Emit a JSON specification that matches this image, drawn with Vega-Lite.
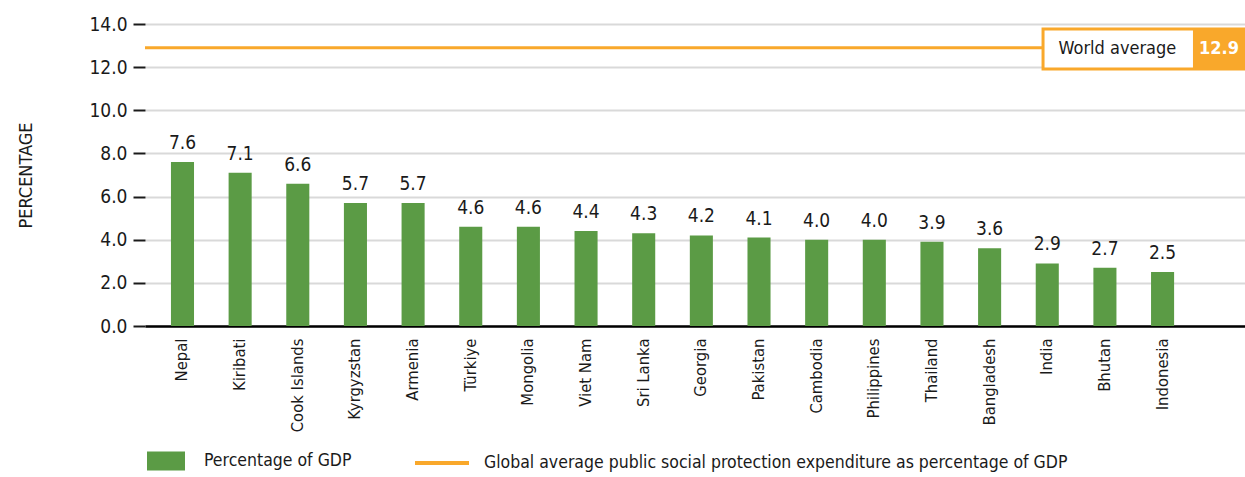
{
  "$schema": "https://vega.github.io/schema/vega-lite/v6.json",
  "width": 1100,
  "height": 302,
  "autosize": {"type": "none"},
  "padding": {"left": 145, "top": 24, "right": 0, "bottom": 151},
  "background": "white",
  "config": {"font": "DejaVu Sans Condensed, Liberation Sans Narrow, Roboto", "view": {"stroke": null}},
  "datasets": {
    "countries": [
      {"country": "Nepal", "value": 7.6},
      {"country": "Kiribati", "value": 7.1},
      {"country": "Cook Islands", "value": 6.6},
      {"country": "Kyrgyzstan", "value": 5.7},
      {"country": "Armenia", "value": 5.7},
      {"country": "Türkiye", "value": 4.6},
      {"country": "Mongolia", "value": 4.6},
      {"country": "Viet Nam", "value": 4.4},
      {"country": "Sri Lanka", "value": 4.3},
      {"country": "Georgia", "value": 4.2},
      {"country": "Pakistan", "value": 4.1},
      {"country": "Cambodia", "value": 4.0},
      {"country": "Philippines", "value": 4.0},
      {"country": "Thailand", "value": 3.9},
      {"country": "Bangladesh", "value": 3.6},
      {"country": "India", "value": 2.9},
      {"country": "Bhutan", "value": 2.7},
      {"country": "Indonesia", "value": 2.5}
    ],
    "world": [
      {"label": "World average", "value": 12.9, "series": "Global average public social protection expenditure as percentage of GDP"}
    ]
  },
  "layer": [
    {
      "data": {"name": "countries"},
      "encoding": {
        "x": {
          "field": "country", "type": "nominal", "sort": null,
          "scale": {"paddingInner": 0.6, "paddingOuter": 0.84, "align": 0.268},
          "axis": {"title": null, "labelAngle": -90, "ticks": false, "domainColor": "#000", "domainWidth": 2.5, "labelPadding": 12, "labelFontSize": 16.5, "labelColor": "#1a1a1a"}
        },
        "y": {
          "field": "value", "type": "quantitative",
          "scale": {"domain": [0, 14]},
          "axis": {"values": [0, 2, 4, 6, 8, 10, 12, 14], "format": ".1f", "title": "PERCENTAGE", "titleFontSize": 18, "titleFontWeight": "normal", "titleColor": "#1a1a1a", "titlePadding": 53, "labelFontSize": 19, "labelColor": "#1a1a1a", "tickSize": 12, "tickColor": "#1a1a1a", "tickWidth": 2, "labelPadding": 6, "domain": false, "gridColor": "#d9d9d9", "gridWidth": 2}
        }
      },
      "layer": [
        {
          "mark": {"type": "bar"},
          "encoding": {
            "color": {
              "datum": "Percentage of GDP",
              "scale": {"range": ["#5B9B45"]},
              "legend": {"orient": "none", "legendX": 2, "legendY": 418, "title": null, "symbolType": "M-1,-0.5H1V0.5H-1Z", "symbolSize": 1444, "labelOffset": 19, "labelFontSize": 17.5, "labelColor": "#1a1a1a", "labelLimit": 400, "symbolStrokeWidth": 0, "padding": 0}
            }
          }
        },
        {
          "mark": {"type": "text", "baseline": "alphabetic", "dy": -13, "fontSize": 19, "color": "#1a1a1a"},
          "encoding": {"text": {"field": "value", "type": "quantitative", "format": ".1f"}}
        }
      ]
    },
    {
      "data": {"name": "world"},
      "layer": [
        {
          "mark": {"type": "rule", "strokeWidth": 3},
          "encoding": {
            "y": {"field": "value", "type": "quantitative"},
            "stroke": {
              "field": "series", "type": "nominal",
              "scale": {"range": ["#F9A82B"]},
              "legend": {"orient": "none", "legendX": 268, "legendY": 410, "title": null, "symbolType": "stroke", "symbolSize": 2916, "symbolStrokeWidth": 4, "labelOffset": 13, "labelFontSize": 17.5, "labelColor": "#1a1a1a", "labelLimit": 900, "padding": 0}
            }
          }
        },
        {
          "mark": {"type": "rect", "fill": "white", "stroke": "#F9A82B", "strokeWidth": 3},
          "encoding": {
            "x": {"datum": 0.8164, "type": "quantitative", "scale": {"domain": [0, 1]}, "axis": null},
            "x2": {"datum": 1},
            "y": {"datum": 13.77},
            "y2": {"datum": 11.91}
          }
        },
        {
          "mark": {"type": "rect", "fill": "#F9A82B"},
          "encoding": {
            "x": {"datum": 0.9527, "type": "quantitative"},
            "x2": {"datum": 1},
            "y": {"datum": 13.77},
            "y2": {"datum": 11.91}
          }
        },
        {
          "mark": {"type": "text", "align": "left", "baseline": "middle", "fontSize": 18, "color": "#1a1a1a"},
          "encoding": {
            "x": {"datum": 0.8305, "type": "quantitative"},
            "y": {"datum": 12.84},
            "text": {"field": "label"}
          }
        },
        {
          "mark": {"type": "text", "align": "center", "baseline": "middle", "fontSize": 18, "fontWeight": "bold", "color": "white"},
          "encoding": {
            "x": {"datum": 0.9764, "type": "quantitative"},
            "y": {"datum": 12.84},
            "text": {"field": "value", "type": "quantitative", "format": ".1f"}
          }
        }
      ]
    }
  ],
  "resolve": {"scale": {"x": "independent"}}
}
